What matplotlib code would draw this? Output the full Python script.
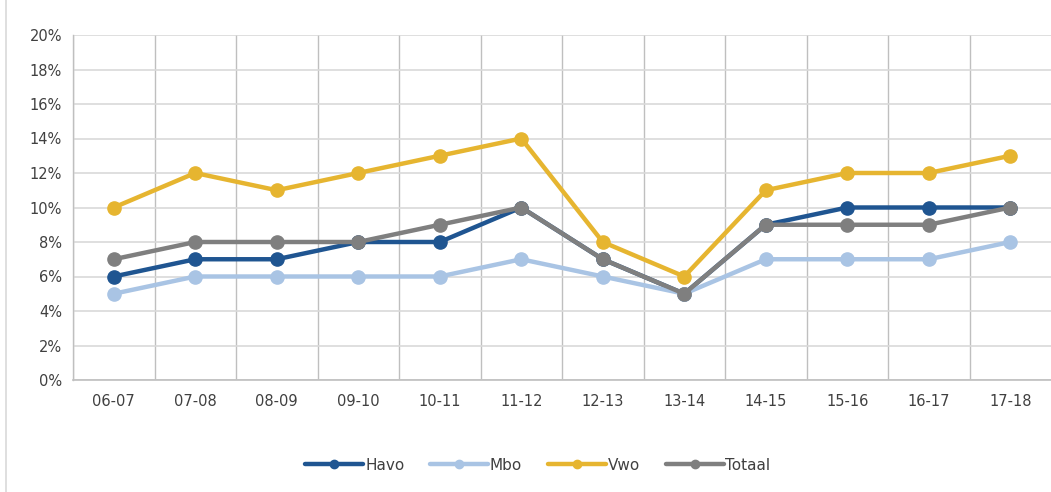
import matplotlib
matplotlib.use("Agg")
import matplotlib.pyplot as plt
from matplotlib.lines import Line2D
from matplotlib.ticker import FuncFormatter, MultipleLocator

categories = ["06-07", "07-08", "08-09", "09-10", "10-11", "11-12",
              "12-13", "13-14", "14-15", "15-16", "16-17", "17-18"]
havo = [6, 7, 7, 8, 8, 10, 7, 5, 9, 10, 10, 10]
mbo = [5, 6, 6, 6, 6, 7, 6, 5, 7, 7, 7, 8]
vwo = [10, 12, 11, 12, 13, 14, 8, 6, 11, 12, 12, 13]
totaal = [7, 8, 8, 8, 9, 10, 7, 5, 9, 9, 9, 10]

series = [("Havo", havo, "#1F5591"),
          ("Mbo", mbo, "#A9C4E4"),
          ("Vwo", vwo, "#E6B530"),
          ("Totaal", totaal, "#7F7F7F")]

plt.rcParams['font.family'] = ['DejaVu Sans']
fig = plt.figure(figsize=(10.51, 4.92), dpi=100)
ax = fig.add_axes([73/1051, 1-380/492, (1051-73)/1051, (380-35)/492])

x = [i + 0.5 for i in range(len(categories))]
for name, vals, col in series:
    ax.plot(x, vals, color=col, lw=3.2, marker='o', markersize=9.5,
            solid_capstyle='round', label=name, zorder=3)

ax.set_xlim(0, 12)
ax.set_ylim(0, 20)
ax.yaxis.set_major_locator(MultipleLocator(2))
ax.yaxis.set_major_formatter(FuncFormatter(lambda v, p: f"{int(v)}%"))
ax.set_xticks(x)
ax.set_xticklabels(categories)
ax.set_xticks(range(12), minor=True)
ax.grid(axis='y', which='major', color='#D9D9D9', lw=1.2)
ax.grid(axis='x', which='minor', color='#BFBFBF', lw=1.0)
ax.tick_params(axis='both', which='both', length=0, labelsize=10.5, colors='#404040', pad=8)
ax.tick_params(axis='x', pad=10)
for s in ['top', 'right']:
    ax.spines[s].set_visible(False)
ax.spines['left'].set_color('#BFBFBF')
ax.spines['left'].set_linewidth(1.0)
ax.spines['bottom'].set_color('#BFBFBF')
ax.spines['bottom'].set_linewidth(1.2)

leg = fig.legend(loc='center', bbox_to_anchor=(538/1051, 1-465/492), ncol=4,
                 frameon=False, fontsize=11, handlelength=3.8, columnspacing=1.7,
                 handletextpad=0.1, labelcolor='#404040')
for h in leg.legend_handles:
    h.set_markersize(6)

fig.lines.append(Line2D([6/1051, 6/1051], [0, 1], transform=fig.transFigure,
                        color='#D9D9D9', lw=1.2))
fig.savefig("out.png", dpi=100)
